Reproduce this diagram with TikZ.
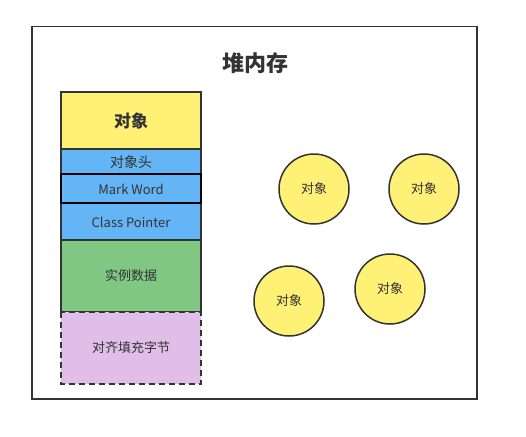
\documentclass[tikz,border=0pt]{standalone}
\usepackage{fontspec}
\setmainfont{Noto Sans CJK SC}
\newfontfamily\cjkb[BoldFont={Noto Sans CJK SC Bold}]{Noto Sans CJK SC}
\definecolor{objyellow}{HTML}{FFF176}
\definecolor{hdrblue}{HTML}{64B5F6}
\definecolor{datagreen}{HTML}{81C784}
\definecolor{padpurple}{HTML}{E1BEE7}
\definecolor{edge}{HTML}{333333}
\begin{document}
\begin{tikzpicture}[x=1pt,y=-1pt,
  cell/.style={draw=edge,line width=1.5pt,text=edge},
  obj/.style={circle,draw=edge,line width=1.5pt,fill=objyellow,minimum size=70pt,inner sep=0pt,text=edge,font=\fontsize{13}{15}\selectfont}]
\useasboundingbox (0,0) rectangle (526,436);
\fill[white] (0,0) rectangle (526,436);
\node[draw=edge,line width=1.5pt,minimum width=445pt,minimum height=372pt,inner sep=0pt,anchor=north west] (heap) at (31,26) {};
\node[text=edge,font=\fontsize{22}{26}\selectfont\bfseries] (title) at (255,63) {堆内存};
\filldraw[cell,fill=objyellow] (61,92) rectangle (201,149);
\node[text=edge,font=\fontsize{17}{20}\selectfont\bfseries] (obj) at (131,121) {对象};
\filldraw[cell,fill=hdrblue] (61,149) rectangle (201,174);
\node[text=edge,font=\fontsize{14}{16}\selectfont] (hdr) at (131,162) {对象头};
\filldraw[cell,fill=hdrblue] (61,203) rectangle (201,240);
\node[text=edge,font=\fontsize{13}{15}\selectfont] (cp) at (131,222) {Class Pointer};
\filldraw[cell,fill=hdrblue,draw=black,line width=2pt] (61,174) rectangle (201,203);
\node[text=edge,font=\fontsize{13}{15}\selectfont] (mw) at (131,189) {Mark Word};
\filldraw[cell,fill=datagreen] (61,240) rectangle (201,312);
\node[text=edge,font=\fontsize{13}{15}\selectfont] (data) at (131,276) {实例数据};
\filldraw[cell,fill=padpurple,dashed,dash pattern=on 6pt off 4pt] (61,312) rectangle (201,384);
\node[text=edge,font=\fontsize{13}{15}\selectfont] (pad) at (131,348) {对齐填充字节};
\node[obj] (o1) at (314,189) {对象};
\node[obj] (o2) at (424,189) {对象};
\node[obj] (o3) at (289,301) {对象};
\node[obj] (o4) at (390,289) {对象};
\end{tikzpicture}
\end{document}
